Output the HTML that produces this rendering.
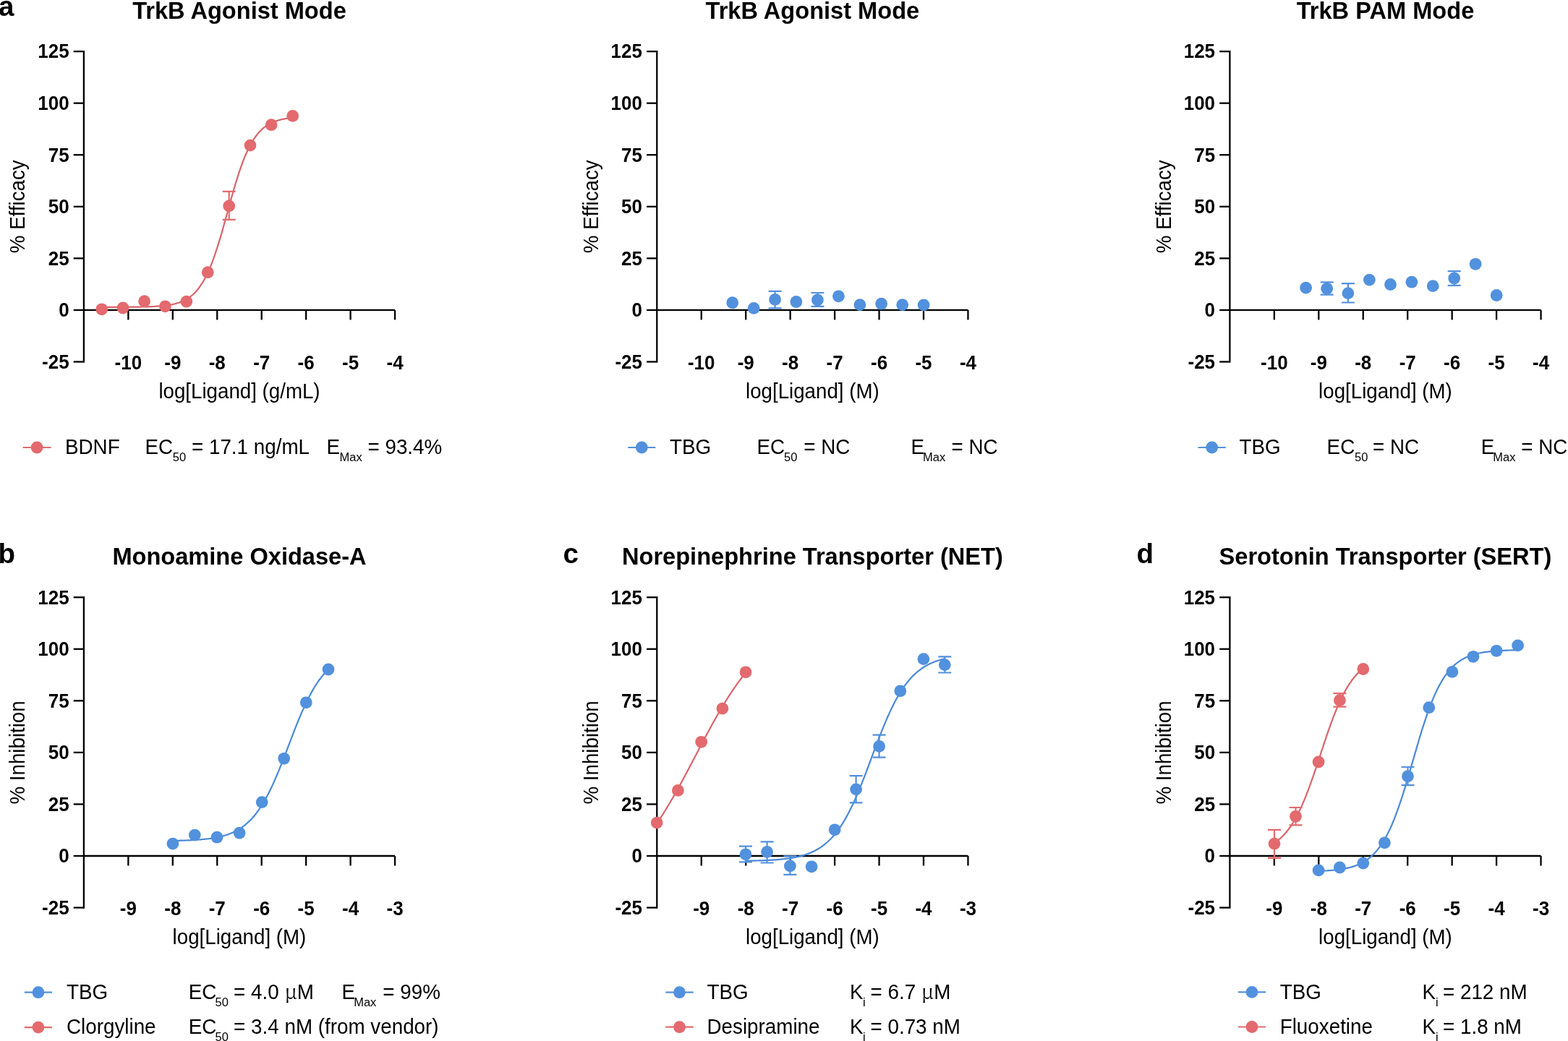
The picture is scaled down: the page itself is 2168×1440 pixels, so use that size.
<!DOCTYPE html>
<html><head><meta charset="utf-8"><title>Figure</title>
<style>
html,body{margin:0;padding:0;background:#fff;}
svg{display:block;}
text{font-family:"Liberation Sans",Arial,sans-serif;fill:#000;}
.tk{font-size:26px;font-weight:700;}
.lb{font-size:27.7px;}
.tt{font-size:32.6px;font-weight:700;}
.pl{font-size:38.5px;font-weight:700;}
.lg{font-size:27.8px;}
.sb{font-size:16.5px;}
.mu{font-family:"Noto Serif CJK SC","Liberation Serif",serif;}
</style></head>
<body>
<svg width="2168" height="1440" viewBox="0 0 2168 1440">
<rect width="2168" height="1440" fill="#fff"/>
<path d="M115.90,71.15 V500.45" stroke="#000" stroke-width="2.3" fill="none" stroke-linecap="square"/>
<path d="M101.70,71.15 H115.90" stroke="#000" stroke-width="2.3" fill="none"/>
<text x="95.60" y="80.45" transform="matrix(1,0,0,1.033,0,-2.655)" class="tk" text-anchor="end">125</text>
<path d="M101.70,142.70 H115.90" stroke="#000" stroke-width="2.3" fill="none"/>
<text x="95.60" y="152.0" transform="matrix(1,0,0,1.033,0,-5.016)" class="tk" text-anchor="end">100</text>
<path d="M101.70,214.25 H115.90" stroke="#000" stroke-width="2.3" fill="none"/>
<text x="95.60" y="223.55" transform="matrix(1,0,0,1.033,0,-7.377)" class="tk" text-anchor="end">75</text>
<path d="M101.70,285.80 H115.90" stroke="#000" stroke-width="2.3" fill="none"/>
<text x="95.60" y="295.1" transform="matrix(1,0,0,1.033,0,-9.738)" class="tk" text-anchor="end">50</text>
<path d="M101.70,357.35 H115.90" stroke="#000" stroke-width="2.3" fill="none"/>
<text x="95.60" y="366.65" transform="matrix(1,0,0,1.033,0,-12.099)" class="tk" text-anchor="end">25</text>
<path d="M101.70,428.90 H115.90" stroke="#000" stroke-width="2.3" fill="none"/>
<text x="95.60" y="438.2" transform="matrix(1,0,0,1.033,0,-14.461)" class="tk" text-anchor="end">0</text>
<path d="M101.70,500.45 H115.90" stroke="#000" stroke-width="2.3" fill="none"/>
<text x="95.60" y="509.75" transform="matrix(1,0,0,1.033,0,-16.822)" class="tk" text-anchor="end">-25</text>
<path d="M115.90,428.90 H546.05" stroke="#000" stroke-width="2.3" fill="none"/>
<path d="M177.35,428.90 V442.40" stroke="#000" stroke-width="2.3" fill="none"/>
<text x="177.35" y="511.2" transform="matrix(1,0,0,1.033,0,-16.870)" class="tk" text-anchor="middle">-10</text>
<path d="M238.80,428.90 V442.40" stroke="#000" stroke-width="2.3" fill="none"/>
<text x="238.80" y="511.2" transform="matrix(1,0,0,1.033,0,-16.870)" class="tk" text-anchor="middle">-9</text>
<path d="M300.25,428.90 V442.40" stroke="#000" stroke-width="2.3" fill="none"/>
<text x="300.25" y="511.2" transform="matrix(1,0,0,1.033,0,-16.870)" class="tk" text-anchor="middle">-8</text>
<path d="M361.70,428.90 V442.40" stroke="#000" stroke-width="2.3" fill="none"/>
<text x="361.70" y="511.2" transform="matrix(1,0,0,1.033,0,-16.870)" class="tk" text-anchor="middle">-7</text>
<path d="M423.15,428.90 V442.40" stroke="#000" stroke-width="2.3" fill="none"/>
<text x="423.15" y="511.2" transform="matrix(1,0,0,1.033,0,-16.870)" class="tk" text-anchor="middle">-6</text>
<path d="M484.60,428.90 V442.40" stroke="#000" stroke-width="2.3" fill="none"/>
<text x="484.60" y="511.2" transform="matrix(1,0,0,1.033,0,-16.870)" class="tk" text-anchor="middle">-5</text>
<path d="M546.05,428.90 V442.40" stroke="#000" stroke-width="2.3" fill="none"/>
<text x="546.05" y="511.2" transform="matrix(1,0,0,1.033,0,-16.870)" class="tk" text-anchor="middle">-4</text>
<text x="330.98" y="550.6" transform="matrix(1,0,0,1.04,0,-22.024)" class="lb" text-anchor="middle">log[Ligand] (g/mL)</text>
<text transform="translate(34.40,285.80) rotate(-90) scale(1,1.04)" class="lb" text-anchor="middle">% Efficacy</text>
<text x="330.98" y="25.9" transform="matrix(1,0,0,1.02,0,-0.518)" class="tt" text-anchor="middle">TrkB Agonist Mode</text>
<path d="M140.7,424.9 L142.9,424.9 L145.1,424.9 L147.4,424.9 L149.6,424.9 L151.8,424.9 L154.0,424.9 L156.2,424.8 L158.4,424.8 L160.7,424.8 L162.9,424.8 L165.1,424.8 L167.3,424.8 L169.5,424.8 L171.8,424.8 L174.0,424.8 L176.2,424.8 L178.4,424.7 L180.6,424.7 L182.9,424.7 L185.1,424.7 L187.3,424.7 L189.5,424.6 L191.7,424.6 L193.9,424.6 L196.2,424.5 L198.4,424.5 L200.6,424.4 L202.8,424.3 L205.0,424.3 L207.3,424.2 L209.5,424.1 L211.7,424.0 L213.9,423.9 L216.1,423.7 L218.3,423.6 L220.6,423.4 L222.8,423.2 L225.0,423.0 L227.2,422.8 L229.4,422.5 L231.7,422.2 L233.9,421.9 L236.1,421.5 L238.3,421.1 L240.5,420.6 L242.8,420.0 L245.0,419.4 L247.2,418.7 L249.4,417.9 L251.6,417.0 L253.8,416.0 L256.1,414.9 L258.3,413.7 L260.5,412.3 L262.7,410.7 L264.9,409.0 L267.2,407.0 L269.4,404.9 L271.6,402.5 L273.8,399.9 L276.0,396.9 L278.2,393.7 L280.5,390.2 L282.7,386.3 L284.9,382.1 L287.1,377.6 L289.3,372.6 L291.6,367.3 L293.8,361.6 L296.0,355.5 L298.2,349.1 L300.4,342.3 L302.6,335.2 L304.9,327.8 L307.1,320.2 L309.3,312.3 L311.5,304.4 L313.7,296.3 L316.0,288.2 L318.2,280.2 L320.4,272.3 L322.6,264.5 L324.8,256.9 L327.1,249.5 L329.3,242.5 L331.5,235.7 L333.7,229.4 L335.9,223.3 L338.1,217.7 L340.4,212.5 L342.6,207.6 L344.8,203.1 L347.0,198.9 L349.2,195.1 L351.5,191.6 L353.7,188.5 L355.9,185.6 L358.1,183.0 L360.3,180.7 L362.5,178.6 L364.8,176.7 L367.0,175.0 L369.2,173.4 L371.4,172.1 L373.6,170.9 L375.9,169.8 L378.1,168.8 L380.3,167.9 L382.5,167.1 L384.7,166.5 L387.0,165.9 L389.2,165.3 L391.4,164.8 L393.6,164.4 L395.8,164.0 L398.0,163.7 L400.3,163.4 L402.5,163.1 L404.7,162.9" fill="none" stroke="#D9646B" stroke-width="2.2" stroke-linejoin="round"/>
<path d="M316.7,264.9 V303.8 M307.7,264.9 H325.7 M307.7,303.8 H325.7" stroke="#E36A6E" stroke-width="2.2" fill="none"/>
<circle cx="140.7" cy="427.8" r="8.4" fill="#E36A6E"/>
<circle cx="170.0" cy="426.0" r="8.4" fill="#E36A6E"/>
<circle cx="199.6" cy="416.7" r="8.4" fill="#E36A6E"/>
<circle cx="228.4" cy="423.8" r="8.4" fill="#E36A6E"/>
<circle cx="257.8" cy="417.1" r="8.4" fill="#E36A6E"/>
<circle cx="287.3" cy="376.7" r="8.4" fill="#E36A6E"/>
<circle cx="316.7" cy="284.9" r="8.4" fill="#E36A6E"/>
<circle cx="346.0" cy="201.1" r="8.4" fill="#E36A6E"/>
<circle cx="375.1" cy="172.7" r="8.4" fill="#E36A6E"/>
<circle cx="404.7" cy="160.4" r="8.4" fill="#E36A6E"/>
<path d="M908.30,71.15 V500.45" stroke="#000" stroke-width="2.3" fill="none" stroke-linecap="square"/>
<path d="M894.10,71.15 H908.30" stroke="#000" stroke-width="2.3" fill="none"/>
<text x="888.00" y="80.45" transform="matrix(1,0,0,1.033,0,-2.655)" class="tk" text-anchor="end">125</text>
<path d="M894.10,142.70 H908.30" stroke="#000" stroke-width="2.3" fill="none"/>
<text x="888.00" y="152.0" transform="matrix(1,0,0,1.033,0,-5.016)" class="tk" text-anchor="end">100</text>
<path d="M894.10,214.25 H908.30" stroke="#000" stroke-width="2.3" fill="none"/>
<text x="888.00" y="223.55" transform="matrix(1,0,0,1.033,0,-7.377)" class="tk" text-anchor="end">75</text>
<path d="M894.10,285.80 H908.30" stroke="#000" stroke-width="2.3" fill="none"/>
<text x="888.00" y="295.1" transform="matrix(1,0,0,1.033,0,-9.738)" class="tk" text-anchor="end">50</text>
<path d="M894.10,357.35 H908.30" stroke="#000" stroke-width="2.3" fill="none"/>
<text x="888.00" y="366.65" transform="matrix(1,0,0,1.033,0,-12.099)" class="tk" text-anchor="end">25</text>
<path d="M894.10,428.90 H908.30" stroke="#000" stroke-width="2.3" fill="none"/>
<text x="888.00" y="438.2" transform="matrix(1,0,0,1.033,0,-14.461)" class="tk" text-anchor="end">0</text>
<path d="M894.10,500.45 H908.30" stroke="#000" stroke-width="2.3" fill="none"/>
<text x="888.00" y="509.75" transform="matrix(1,0,0,1.033,0,-16.822)" class="tk" text-anchor="end">-25</text>
<path d="M908.30,428.90 H1338.45" stroke="#000" stroke-width="2.3" fill="none"/>
<path d="M969.75,428.90 V442.40" stroke="#000" stroke-width="2.3" fill="none"/>
<text x="969.75" y="511.2" transform="matrix(1,0,0,1.033,0,-16.870)" class="tk" text-anchor="middle">-10</text>
<path d="M1031.20,428.90 V442.40" stroke="#000" stroke-width="2.3" fill="none"/>
<text x="1031.20" y="511.2" transform="matrix(1,0,0,1.033,0,-16.870)" class="tk" text-anchor="middle">-9</text>
<path d="M1092.65,428.90 V442.40" stroke="#000" stroke-width="2.3" fill="none"/>
<text x="1092.65" y="511.2" transform="matrix(1,0,0,1.033,0,-16.870)" class="tk" text-anchor="middle">-8</text>
<path d="M1154.10,428.90 V442.40" stroke="#000" stroke-width="2.3" fill="none"/>
<text x="1154.10" y="511.2" transform="matrix(1,0,0,1.033,0,-16.870)" class="tk" text-anchor="middle">-7</text>
<path d="M1215.55,428.90 V442.40" stroke="#000" stroke-width="2.3" fill="none"/>
<text x="1215.55" y="511.2" transform="matrix(1,0,0,1.033,0,-16.870)" class="tk" text-anchor="middle">-6</text>
<path d="M1277.00,428.90 V442.40" stroke="#000" stroke-width="2.3" fill="none"/>
<text x="1277.00" y="511.2" transform="matrix(1,0,0,1.033,0,-16.870)" class="tk" text-anchor="middle">-5</text>
<path d="M1338.45,428.90 V442.40" stroke="#000" stroke-width="2.3" fill="none"/>
<text x="1338.45" y="511.2" transform="matrix(1,0,0,1.033,0,-16.870)" class="tk" text-anchor="middle">-4</text>
<text x="1123.38" y="550.6" transform="matrix(1,0,0,1.04,0,-22.024)" class="lb" text-anchor="middle">log[Ligand] (M)</text>
<text transform="translate(826.80,285.80) rotate(-90) scale(1,1.04)" class="lb" text-anchor="middle">% Efficacy</text>
<text x="1123.38" y="25.9" transform="matrix(1,0,0,1.02,0,-0.518)" class="tt" text-anchor="middle">TrkB Agonist Mode</text>
<path d="M1071.6,402.8 V426.4 M1062.6,402.8 H1080.6 M1062.6,426.4 H1080.6" stroke="#5291DD" stroke-width="2.2" fill="none"/>
<path d="M1130.4,405.0 V423.9 M1121.4,405.0 H1139.4 M1121.4,423.9 H1139.4" stroke="#5291DD" stroke-width="2.2" fill="none"/>
<circle cx="1012.7" cy="418.7" r="8.4" fill="#5291DD"/>
<circle cx="1042.2" cy="426.4" r="8.4" fill="#5291DD"/>
<circle cx="1071.6" cy="414.4" r="8.4" fill="#5291DD"/>
<circle cx="1100.9" cy="417.5" r="8.4" fill="#5291DD"/>
<circle cx="1130.4" cy="415.0" r="8.4" fill="#5291DD"/>
<circle cx="1159.4" cy="409.8" r="8.4" fill="#5291DD"/>
<circle cx="1188.9" cy="421.6" r="8.4" fill="#5291DD"/>
<circle cx="1218.6" cy="420.2" r="8.4" fill="#5291DD"/>
<circle cx="1247.7" cy="421.6" r="8.4" fill="#5291DD"/>
<circle cx="1277.1" cy="421.9" r="8.4" fill="#5291DD"/>
<path d="M1700.40,71.15 V500.45" stroke="#000" stroke-width="2.3" fill="none" stroke-linecap="square"/>
<path d="M1686.20,71.15 H1700.40" stroke="#000" stroke-width="2.3" fill="none"/>
<text x="1680.10" y="80.45" transform="matrix(1,0,0,1.033,0,-2.655)" class="tk" text-anchor="end">125</text>
<path d="M1686.20,142.70 H1700.40" stroke="#000" stroke-width="2.3" fill="none"/>
<text x="1680.10" y="152.0" transform="matrix(1,0,0,1.033,0,-5.016)" class="tk" text-anchor="end">100</text>
<path d="M1686.20,214.25 H1700.40" stroke="#000" stroke-width="2.3" fill="none"/>
<text x="1680.10" y="223.55" transform="matrix(1,0,0,1.033,0,-7.377)" class="tk" text-anchor="end">75</text>
<path d="M1686.20,285.80 H1700.40" stroke="#000" stroke-width="2.3" fill="none"/>
<text x="1680.10" y="295.1" transform="matrix(1,0,0,1.033,0,-9.738)" class="tk" text-anchor="end">50</text>
<path d="M1686.20,357.35 H1700.40" stroke="#000" stroke-width="2.3" fill="none"/>
<text x="1680.10" y="366.65" transform="matrix(1,0,0,1.033,0,-12.099)" class="tk" text-anchor="end">25</text>
<path d="M1686.20,428.90 H1700.40" stroke="#000" stroke-width="2.3" fill="none"/>
<text x="1680.10" y="438.2" transform="matrix(1,0,0,1.033,0,-14.461)" class="tk" text-anchor="end">0</text>
<path d="M1686.20,500.45 H1700.40" stroke="#000" stroke-width="2.3" fill="none"/>
<text x="1680.10" y="509.75" transform="matrix(1,0,0,1.033,0,-16.822)" class="tk" text-anchor="end">-25</text>
<path d="M1700.40,428.90 H2130.55" stroke="#000" stroke-width="2.3" fill="none"/>
<path d="M1761.85,428.90 V442.40" stroke="#000" stroke-width="2.3" fill="none"/>
<text x="1761.85" y="511.2" transform="matrix(1,0,0,1.033,0,-16.870)" class="tk" text-anchor="middle">-10</text>
<path d="M1823.30,428.90 V442.40" stroke="#000" stroke-width="2.3" fill="none"/>
<text x="1823.30" y="511.2" transform="matrix(1,0,0,1.033,0,-16.870)" class="tk" text-anchor="middle">-9</text>
<path d="M1884.75,428.90 V442.40" stroke="#000" stroke-width="2.3" fill="none"/>
<text x="1884.75" y="511.2" transform="matrix(1,0,0,1.033,0,-16.870)" class="tk" text-anchor="middle">-8</text>
<path d="M1946.20,428.90 V442.40" stroke="#000" stroke-width="2.3" fill="none"/>
<text x="1946.20" y="511.2" transform="matrix(1,0,0,1.033,0,-16.870)" class="tk" text-anchor="middle">-7</text>
<path d="M2007.65,428.90 V442.40" stroke="#000" stroke-width="2.3" fill="none"/>
<text x="2007.65" y="511.2" transform="matrix(1,0,0,1.033,0,-16.870)" class="tk" text-anchor="middle">-6</text>
<path d="M2069.10,428.90 V442.40" stroke="#000" stroke-width="2.3" fill="none"/>
<text x="2069.10" y="511.2" transform="matrix(1,0,0,1.033,0,-16.870)" class="tk" text-anchor="middle">-5</text>
<path d="M2130.55,428.90 V442.40" stroke="#000" stroke-width="2.3" fill="none"/>
<text x="2130.55" y="511.2" transform="matrix(1,0,0,1.033,0,-16.870)" class="tk" text-anchor="middle">-4</text>
<text x="1915.48" y="550.6" transform="matrix(1,0,0,1.04,0,-22.024)" class="lb" text-anchor="middle">log[Ligand] (M)</text>
<text transform="translate(1618.90,285.80) rotate(-90) scale(1,1.04)" class="lb" text-anchor="middle">% Efficacy</text>
<text x="1915.48" y="25.9" transform="matrix(1,0,0,1.02,0,-0.518)" class="tt" text-anchor="middle">TrkB PAM Mode</text>
<path d="M1834.7,390.4 V407.7 M1825.7,390.4 H1843.7 M1825.7,407.7 H1843.7" stroke="#5291DD" stroke-width="2.2" fill="none"/>
<path d="M1863.9,392.1 V418.5 M1854.9,392.1 H1872.9 M1854.9,418.5 H1872.9" stroke="#5291DD" stroke-width="2.2" fill="none"/>
<path d="M2010.7,375.1 V394.8 M2001.7,375.1 H2019.7 M2001.7,394.8 H2019.7" stroke="#5291DD" stroke-width="2.2" fill="none"/>
<circle cx="1805.6" cy="398.1" r="8.4" fill="#5291DD"/>
<circle cx="1834.7" cy="399.2" r="8.4" fill="#5291DD"/>
<circle cx="1863.9" cy="405.6" r="8.4" fill="#5291DD"/>
<circle cx="1893.4" cy="387.1" r="8.4" fill="#5291DD"/>
<circle cx="1922.5" cy="393.5" r="8.4" fill="#5291DD"/>
<circle cx="1951.9" cy="390.2" r="8.4" fill="#5291DD"/>
<circle cx="1981.2" cy="395.6" r="8.4" fill="#5291DD"/>
<circle cx="2010.7" cy="385.0" r="8.4" fill="#5291DD"/>
<circle cx="2040.1" cy="365.3" r="8.4" fill="#5291DD"/>
<circle cx="2069.2" cy="408.5" r="8.4" fill="#5291DD"/>
<path d="M115.90,826.25 V1255.55" stroke="#000" stroke-width="2.3" fill="none" stroke-linecap="square"/>
<path d="M101.70,826.25 H115.90" stroke="#000" stroke-width="2.3" fill="none"/>
<text x="95.60" y="835.55" transform="matrix(1,0,0,1.033,0,-27.573)" class="tk" text-anchor="end">125</text>
<path d="M101.70,897.80 H115.90" stroke="#000" stroke-width="2.3" fill="none"/>
<text x="95.60" y="907.1" transform="matrix(1,0,0,1.033,0,-29.934)" class="tk" text-anchor="end">100</text>
<path d="M101.70,969.35 H115.90" stroke="#000" stroke-width="2.3" fill="none"/>
<text x="95.60" y="978.65" transform="matrix(1,0,0,1.033,0,-32.295)" class="tk" text-anchor="end">75</text>
<path d="M101.70,1040.90 H115.90" stroke="#000" stroke-width="2.3" fill="none"/>
<text x="95.60" y="1050.2" transform="matrix(1,0,0,1.033,0,-34.657)" class="tk" text-anchor="end">50</text>
<path d="M101.70,1112.45 H115.90" stroke="#000" stroke-width="2.3" fill="none"/>
<text x="95.60" y="1121.75" transform="matrix(1,0,0,1.033,0,-37.018)" class="tk" text-anchor="end">25</text>
<path d="M101.70,1184.00 H115.90" stroke="#000" stroke-width="2.3" fill="none"/>
<text x="95.60" y="1193.3" transform="matrix(1,0,0,1.033,0,-39.379)" class="tk" text-anchor="end">0</text>
<path d="M101.70,1255.55 H115.90" stroke="#000" stroke-width="2.3" fill="none"/>
<text x="95.60" y="1264.85" transform="matrix(1,0,0,1.033,0,-41.740)" class="tk" text-anchor="end">-25</text>
<path d="M115.90,1184.00 H546.05" stroke="#000" stroke-width="2.3" fill="none"/>
<path d="M177.35,1184.00 V1197.50" stroke="#000" stroke-width="2.3" fill="none"/>
<text x="177.35" y="1266.3" transform="matrix(1,0,0,1.033,0,-41.788)" class="tk" text-anchor="middle">-9</text>
<path d="M238.80,1184.00 V1197.50" stroke="#000" stroke-width="2.3" fill="none"/>
<text x="238.80" y="1266.3" transform="matrix(1,0,0,1.033,0,-41.788)" class="tk" text-anchor="middle">-8</text>
<path d="M300.25,1184.00 V1197.50" stroke="#000" stroke-width="2.3" fill="none"/>
<text x="300.25" y="1266.3" transform="matrix(1,0,0,1.033,0,-41.788)" class="tk" text-anchor="middle">-7</text>
<path d="M361.70,1184.00 V1197.50" stroke="#000" stroke-width="2.3" fill="none"/>
<text x="361.70" y="1266.3" transform="matrix(1,0,0,1.033,0,-41.788)" class="tk" text-anchor="middle">-6</text>
<path d="M423.15,1184.00 V1197.50" stroke="#000" stroke-width="2.3" fill="none"/>
<text x="423.15" y="1266.3" transform="matrix(1,0,0,1.033,0,-41.788)" class="tk" text-anchor="middle">-5</text>
<path d="M484.60,1184.00 V1197.50" stroke="#000" stroke-width="2.3" fill="none"/>
<text x="484.60" y="1266.3" transform="matrix(1,0,0,1.033,0,-41.788)" class="tk" text-anchor="middle">-4</text>
<path d="M546.05,1184.00 V1197.50" stroke="#000" stroke-width="2.3" fill="none"/>
<text x="546.05" y="1266.3" transform="matrix(1,0,0,1.033,0,-41.788)" class="tk" text-anchor="middle">-3</text>
<text x="330.98" y="1305.7" transform="matrix(1,0,0,1.04,0,-52.228)" class="lb" text-anchor="middle">log[Ligand] (M)</text>
<text transform="translate(34.40,1040.90) rotate(-90) scale(1,1.04)" class="lb" text-anchor="middle">% Inhibition</text>
<text x="330.98" y="781.0" transform="matrix(1,0,0,1.02,0,-15.620)" class="tt" text-anchor="middle">Monoamine Oxidase-A</text>
<path d="M238.9,1163.0 L240.7,1162.9 L242.5,1162.9 L244.3,1162.9 L246.1,1162.8 L247.9,1162.8 L249.7,1162.7 L251.6,1162.7 L253.4,1162.6 L255.2,1162.6 L257.0,1162.5 L258.8,1162.4 L260.6,1162.3 L262.4,1162.3 L264.2,1162.2 L266.0,1162.1 L267.8,1162.0 L269.6,1161.9 L271.4,1161.8 L273.2,1161.6 L275.1,1161.5 L276.9,1161.4 L278.7,1161.2 L280.5,1161.0 L282.3,1160.9 L284.1,1160.7 L285.9,1160.5 L287.7,1160.3 L289.5,1160.0 L291.3,1159.8 L293.1,1159.5 L294.9,1159.2 L296.7,1158.9 L298.5,1158.6 L300.4,1158.2 L302.2,1157.9 L304.0,1157.5 L305.8,1157.0 L307.6,1156.6 L309.4,1156.1 L311.2,1155.5 L313.0,1155.0 L314.8,1154.4 L316.6,1153.7 L318.4,1153.0 L320.2,1152.3 L322.0,1151.5 L323.9,1150.6 L325.7,1149.7 L327.5,1148.8 L329.3,1147.8 L331.1,1146.7 L332.9,1145.5 L334.7,1144.3 L336.5,1143.0 L338.3,1141.6 L340.1,1140.1 L341.9,1138.5 L343.7,1136.8 L345.5,1135.1 L347.4,1133.2 L349.2,1131.2 L351.0,1129.2 L352.8,1127.0 L354.6,1124.7 L356.4,1122.2 L358.2,1119.7 L360.0,1117.0 L361.8,1114.2 L363.6,1111.3 L365.4,1108.2 L367.2,1105.0 L369.0,1101.7 L370.9,1098.2 L372.7,1094.6 L374.5,1090.9 L376.3,1087.1 L378.1,1083.2 L379.9,1079.1 L381.7,1074.9 L383.5,1070.7 L385.3,1066.3 L387.1,1061.9 L388.9,1057.3 L390.7,1052.8 L392.5,1048.1 L394.4,1043.5 L396.2,1038.8 L398.0,1034.0 L399.8,1029.3 L401.6,1024.6 L403.4,1019.9 L405.2,1015.2 L407.0,1010.5 L408.8,1005.9 L410.6,1001.4 L412.4,997.0 L414.2,992.6 L416.0,988.3 L417.8,984.1 L419.7,980.1 L421.5,976.1 L423.3,972.2 L425.1,968.5 L426.9,964.9 L428.7,961.4 L430.5,958.1 L432.3,954.9 L434.1,951.8 L435.9,948.8 L437.7,946.0 L439.5,943.3 L441.3,940.7 L443.2,938.3 L445.0,935.9 L446.8,933.7 L448.6,931.6 L450.4,929.6 L452.2,927.8 L454.0,926.0" fill="none" stroke="#4A88D8" stroke-width="2.2" stroke-linejoin="round"/>
<circle cx="238.9" cy="1167.1" r="8.4" fill="#5291DD"/>
<circle cx="269.3" cy="1155.1" r="8.4" fill="#5291DD"/>
<circle cx="300.0" cy="1158.2" r="8.4" fill="#5291DD"/>
<circle cx="331.1" cy="1152.2" r="8.4" fill="#5291DD"/>
<circle cx="362.2" cy="1109.6" r="8.4" fill="#5291DD"/>
<circle cx="392.7" cy="1049.3" r="8.4" fill="#5291DD"/>
<circle cx="423.3" cy="971.8" r="8.4" fill="#5291DD"/>
<circle cx="454.0" cy="926.0" r="8.4" fill="#5291DD"/>
<path d="M908.30,826.25 V1255.55" stroke="#000" stroke-width="2.3" fill="none" stroke-linecap="square"/>
<path d="M894.10,826.25 H908.30" stroke="#000" stroke-width="2.3" fill="none"/>
<text x="888.00" y="835.55" transform="matrix(1,0,0,1.033,0,-27.573)" class="tk" text-anchor="end">125</text>
<path d="M894.10,897.80 H908.30" stroke="#000" stroke-width="2.3" fill="none"/>
<text x="888.00" y="907.1" transform="matrix(1,0,0,1.033,0,-29.934)" class="tk" text-anchor="end">100</text>
<path d="M894.10,969.35 H908.30" stroke="#000" stroke-width="2.3" fill="none"/>
<text x="888.00" y="978.65" transform="matrix(1,0,0,1.033,0,-32.295)" class="tk" text-anchor="end">75</text>
<path d="M894.10,1040.90 H908.30" stroke="#000" stroke-width="2.3" fill="none"/>
<text x="888.00" y="1050.2" transform="matrix(1,0,0,1.033,0,-34.657)" class="tk" text-anchor="end">50</text>
<path d="M894.10,1112.45 H908.30" stroke="#000" stroke-width="2.3" fill="none"/>
<text x="888.00" y="1121.75" transform="matrix(1,0,0,1.033,0,-37.018)" class="tk" text-anchor="end">25</text>
<path d="M894.10,1184.00 H908.30" stroke="#000" stroke-width="2.3" fill="none"/>
<text x="888.00" y="1193.3" transform="matrix(1,0,0,1.033,0,-39.379)" class="tk" text-anchor="end">0</text>
<path d="M894.10,1255.55 H908.30" stroke="#000" stroke-width="2.3" fill="none"/>
<text x="888.00" y="1264.85" transform="matrix(1,0,0,1.033,0,-41.740)" class="tk" text-anchor="end">-25</text>
<path d="M908.30,1184.00 H1338.45" stroke="#000" stroke-width="2.3" fill="none"/>
<path d="M969.75,1184.00 V1197.50" stroke="#000" stroke-width="2.3" fill="none"/>
<text x="969.75" y="1266.3" transform="matrix(1,0,0,1.033,0,-41.788)" class="tk" text-anchor="middle">-9</text>
<path d="M1031.20,1184.00 V1197.50" stroke="#000" stroke-width="2.3" fill="none"/>
<text x="1031.20" y="1266.3" transform="matrix(1,0,0,1.033,0,-41.788)" class="tk" text-anchor="middle">-8</text>
<path d="M1092.65,1184.00 V1197.50" stroke="#000" stroke-width="2.3" fill="none"/>
<text x="1092.65" y="1266.3" transform="matrix(1,0,0,1.033,0,-41.788)" class="tk" text-anchor="middle">-7</text>
<path d="M1154.10,1184.00 V1197.50" stroke="#000" stroke-width="2.3" fill="none"/>
<text x="1154.10" y="1266.3" transform="matrix(1,0,0,1.033,0,-41.788)" class="tk" text-anchor="middle">-6</text>
<path d="M1215.55,1184.00 V1197.50" stroke="#000" stroke-width="2.3" fill="none"/>
<text x="1215.55" y="1266.3" transform="matrix(1,0,0,1.033,0,-41.788)" class="tk" text-anchor="middle">-5</text>
<path d="M1277.00,1184.00 V1197.50" stroke="#000" stroke-width="2.3" fill="none"/>
<text x="1277.00" y="1266.3" transform="matrix(1,0,0,1.033,0,-41.788)" class="tk" text-anchor="middle">-4</text>
<path d="M1338.45,1184.00 V1197.50" stroke="#000" stroke-width="2.3" fill="none"/>
<text x="1338.45" y="1266.3" transform="matrix(1,0,0,1.033,0,-41.788)" class="tk" text-anchor="middle">-3</text>
<text x="1123.38" y="1305.7" transform="matrix(1,0,0,1.04,0,-52.228)" class="lb" text-anchor="middle">log[Ligand] (M)</text>
<text transform="translate(826.80,1040.90) rotate(-90) scale(1,1.04)" class="lb" text-anchor="middle">% Inhibition</text>
<text x="1123.38" y="781.0" transform="matrix(1,0,0,1.02,0,-15.620)" class="tt" text-anchor="middle">Norepinephrine Transporter (NET)</text>
<path d="M908.2,1138.9 L909.2,1137.4 L910.3,1135.8 L911.3,1134.3 L912.3,1132.7 L913.4,1131.2 L914.4,1129.6 L915.4,1128.0 L916.5,1126.4 L917.5,1124.8 L918.5,1123.1 L919.6,1121.5 L920.6,1119.8 L921.6,1118.1 L922.6,1116.4 L923.7,1114.7 L924.7,1113.0 L925.7,1111.3 L926.8,1109.5 L927.8,1107.8 L928.8,1106.0 L929.9,1104.2 L930.9,1102.4 L931.9,1100.6 L933.0,1098.8 L934.0,1097.0 L935.0,1095.1 L936.1,1093.3 L937.1,1091.4 L938.1,1089.6 L939.2,1087.7 L940.2,1085.8 L941.2,1083.9 L942.3,1082.0 L943.3,1080.1 L944.3,1078.2 L945.3,1076.3 L946.4,1074.4 L947.4,1072.5 L948.4,1070.5 L949.5,1068.6 L950.5,1066.6 L951.5,1064.7 L952.6,1062.7 L953.6,1060.8 L954.6,1058.8 L955.7,1056.8 L956.7,1054.9 L957.7,1052.9 L958.8,1050.9 L959.8,1049.0 L960.8,1047.0 L961.9,1045.0 L962.9,1043.0 L963.9,1041.1 L965.0,1039.1 L966.0,1037.1 L967.0,1035.1 L968.1,1033.2 L969.1,1031.2 L970.1,1029.3 L971.1,1027.3 L972.2,1025.3 L973.2,1023.4 L974.2,1021.4 L975.3,1019.5 L976.3,1017.6 L977.3,1015.6 L978.4,1013.7 L979.4,1011.8 L980.4,1009.9 L981.5,1008.0 L982.5,1006.1 L983.5,1004.2 L984.6,1002.3 L985.6,1000.5 L986.6,998.6 L987.7,996.8 L988.7,994.9 L989.7,993.1 L990.8,991.3 L991.8,989.4 L992.8,987.6 L993.9,985.9 L994.9,984.1 L995.9,982.3 L996.9,980.6 L998.0,978.8 L999.0,977.1 L1000.0,975.4 L1001.1,973.7 L1002.1,972.0 L1003.1,970.3 L1004.2,968.7 L1005.2,967.0 L1006.2,965.4 L1007.3,963.7 L1008.3,962.1 L1009.3,960.5 L1010.4,959.0 L1011.4,957.4 L1012.4,955.9 L1013.5,954.3 L1014.5,952.8 L1015.5,951.3 L1016.6,949.8 L1017.6,948.3 L1018.6,946.9 L1019.6,945.4 L1020.7,944.0 L1021.7,942.6 L1022.7,941.2 L1023.8,939.8 L1024.8,938.5 L1025.8,937.1 L1026.9,935.8 L1027.9,934.5 L1028.9,933.2 L1030.0,931.9 L1031.0,930.6" fill="none" stroke="#D9646B" stroke-width="2.2" stroke-linejoin="round"/>
<path d="M1031.0,1190.8 L1033.3,1190.8 L1035.6,1190.8 L1037.9,1190.7 L1040.3,1190.7 L1042.6,1190.6 L1044.9,1190.6 L1047.2,1190.5 L1049.5,1190.4 L1051.8,1190.3 L1054.1,1190.3 L1056.4,1190.2 L1058.8,1190.1 L1061.1,1190.0 L1063.4,1189.8 L1065.7,1189.7 L1068.0,1189.6 L1070.3,1189.4 L1072.6,1189.3 L1075.0,1189.1 L1077.3,1188.9 L1079.6,1188.7 L1081.9,1188.4 L1084.2,1188.2 L1086.5,1187.9 L1088.8,1187.6 L1091.1,1187.3 L1093.5,1186.9 L1095.8,1186.6 L1098.1,1186.1 L1100.4,1185.7 L1102.7,1185.2 L1105.0,1184.6 L1107.3,1184.1 L1109.7,1183.4 L1112.0,1182.7 L1114.3,1182.0 L1116.6,1181.2 L1118.9,1180.3 L1121.2,1179.4 L1123.5,1178.3 L1125.9,1177.2 L1128.2,1176.0 L1130.5,1174.7 L1132.8,1173.3 L1135.1,1171.8 L1137.4,1170.2 L1139.7,1168.4 L1142.0,1166.5 L1144.4,1164.5 L1146.7,1162.3 L1149.0,1160.0 L1151.3,1157.5 L1153.6,1154.9 L1155.9,1152.0 L1158.2,1149.0 L1160.6,1145.8 L1162.9,1142.4 L1165.2,1138.8 L1167.5,1134.9 L1169.8,1130.9 L1172.1,1126.7 L1174.4,1122.3 L1176.7,1117.6 L1179.1,1112.8 L1181.4,1107.8 L1183.7,1102.6 L1186.0,1097.2 L1188.3,1091.6 L1190.6,1085.9 L1192.9,1080.1 L1195.3,1074.1 L1197.6,1068.1 L1199.9,1062.0 L1202.2,1055.8 L1204.5,1049.6 L1206.8,1043.4 L1209.1,1037.3 L1211.4,1031.1 L1213.8,1025.0 L1216.1,1019.0 L1218.4,1013.2 L1220.7,1007.4 L1223.0,1001.8 L1225.3,996.3 L1227.6,991.0 L1230.0,985.9 L1232.3,980.9 L1234.6,976.2 L1236.9,971.6 L1239.2,967.3 L1241.5,963.2 L1243.8,959.3 L1246.2,955.5 L1248.5,952.0 L1250.8,948.7 L1253.1,945.6 L1255.4,942.7 L1257.7,939.9 L1260.0,937.3 L1262.3,934.9 L1264.7,932.6 L1267.0,930.5 L1269.3,928.6 L1271.6,926.8 L1273.9,925.1 L1276.2,923.5 L1278.5,922.0 L1280.9,920.7 L1283.2,919.4 L1285.5,918.3 L1287.8,917.2 L1290.1,916.2 L1292.4,915.3 L1294.7,914.5 L1297.0,913.7 L1299.4,913.0 L1301.7,912.3 L1304.0,911.7 L1306.3,911.1" fill="none" stroke="#4A88D8" stroke-width="2.2" stroke-linejoin="round"/>
<circle cx="908.2" cy="1138.1" r="8.4" fill="#E36A6E"/>
<circle cx="937.4" cy="1093.4" r="8.4" fill="#E36A6E"/>
<circle cx="969.7" cy="1026.3" r="8.4" fill="#E36A6E"/>
<circle cx="998.9" cy="980.1" r="8.4" fill="#E36A6E"/>
<circle cx="1031.0" cy="929.8" r="8.4" fill="#E36A6E"/>
<path d="M1031.0,1170.6 V1192.3 M1022.0,1170.6 H1040.0 M1022.0,1192.3 H1040.0" stroke="#5291DD" stroke-width="2.2" fill="none"/>
<path d="M1060.6,1164.3 V1193.5 M1051.6,1164.3 H1069.6 M1051.6,1193.5 H1069.6" stroke="#5291DD" stroke-width="2.2" fill="none"/>
<path d="M1092.4,1184.3 V1209.8 M1083.4,1184.3 H1101.4 M1083.4,1209.8 H1101.4" stroke="#5291DD" stroke-width="2.2" fill="none"/>
<path d="M1183.6,1073.2 V1110.4 M1174.6,1073.2 H1192.6 M1174.6,1110.4 H1192.6" stroke="#5291DD" stroke-width="2.2" fill="none"/>
<path d="M1215.6,1016.6 V1047.7 M1206.6,1016.6 H1224.6 M1206.6,1047.7 H1224.6" stroke="#5291DD" stroke-width="2.2" fill="none"/>
<path d="M1306.3,908.4 V930.5 M1297.3,908.4 H1315.3 M1297.3,930.5 H1315.3" stroke="#5291DD" stroke-width="2.2" fill="none"/>
<circle cx="1031.0" cy="1181.8" r="8.4" fill="#5291DD"/>
<circle cx="1060.6" cy="1178.4" r="8.4" fill="#5291DD"/>
<circle cx="1092.4" cy="1197.9" r="8.4" fill="#5291DD"/>
<circle cx="1122.1" cy="1198.8" r="8.4" fill="#5291DD"/>
<circle cx="1154.2" cy="1147.8" r="8.4" fill="#5291DD"/>
<circle cx="1183.6" cy="1091.9" r="8.4" fill="#5291DD"/>
<circle cx="1215.6" cy="1032.4" r="8.4" fill="#5291DD"/>
<circle cx="1244.8" cy="955.8" r="8.4" fill="#5291DD"/>
<circle cx="1276.9" cy="911.6" r="8.4" fill="#5291DD"/>
<circle cx="1306.3" cy="919.6" r="8.4" fill="#5291DD"/>
<path d="M1700.40,826.25 V1255.55" stroke="#000" stroke-width="2.3" fill="none" stroke-linecap="square"/>
<path d="M1686.20,826.25 H1700.40" stroke="#000" stroke-width="2.3" fill="none"/>
<text x="1680.10" y="835.55" transform="matrix(1,0,0,1.033,0,-27.573)" class="tk" text-anchor="end">125</text>
<path d="M1686.20,897.80 H1700.40" stroke="#000" stroke-width="2.3" fill="none"/>
<text x="1680.10" y="907.1" transform="matrix(1,0,0,1.033,0,-29.934)" class="tk" text-anchor="end">100</text>
<path d="M1686.20,969.35 H1700.40" stroke="#000" stroke-width="2.3" fill="none"/>
<text x="1680.10" y="978.65" transform="matrix(1,0,0,1.033,0,-32.295)" class="tk" text-anchor="end">75</text>
<path d="M1686.20,1040.90 H1700.40" stroke="#000" stroke-width="2.3" fill="none"/>
<text x="1680.10" y="1050.2" transform="matrix(1,0,0,1.033,0,-34.657)" class="tk" text-anchor="end">50</text>
<path d="M1686.20,1112.45 H1700.40" stroke="#000" stroke-width="2.3" fill="none"/>
<text x="1680.10" y="1121.75" transform="matrix(1,0,0,1.033,0,-37.018)" class="tk" text-anchor="end">25</text>
<path d="M1686.20,1184.00 H1700.40" stroke="#000" stroke-width="2.3" fill="none"/>
<text x="1680.10" y="1193.3" transform="matrix(1,0,0,1.033,0,-39.379)" class="tk" text-anchor="end">0</text>
<path d="M1686.20,1255.55 H1700.40" stroke="#000" stroke-width="2.3" fill="none"/>
<text x="1680.10" y="1264.85" transform="matrix(1,0,0,1.033,0,-41.740)" class="tk" text-anchor="end">-25</text>
<path d="M1700.40,1184.00 H2130.55" stroke="#000" stroke-width="2.3" fill="none"/>
<path d="M1761.85,1184.00 V1197.50" stroke="#000" stroke-width="2.3" fill="none"/>
<text x="1761.85" y="1266.3" transform="matrix(1,0,0,1.033,0,-41.788)" class="tk" text-anchor="middle">-9</text>
<path d="M1823.30,1184.00 V1197.50" stroke="#000" stroke-width="2.3" fill="none"/>
<text x="1823.30" y="1266.3" transform="matrix(1,0,0,1.033,0,-41.788)" class="tk" text-anchor="middle">-8</text>
<path d="M1884.75,1184.00 V1197.50" stroke="#000" stroke-width="2.3" fill="none"/>
<text x="1884.75" y="1266.3" transform="matrix(1,0,0,1.033,0,-41.788)" class="tk" text-anchor="middle">-7</text>
<path d="M1946.20,1184.00 V1197.50" stroke="#000" stroke-width="2.3" fill="none"/>
<text x="1946.20" y="1266.3" transform="matrix(1,0,0,1.033,0,-41.788)" class="tk" text-anchor="middle">-6</text>
<path d="M2007.65,1184.00 V1197.50" stroke="#000" stroke-width="2.3" fill="none"/>
<text x="2007.65" y="1266.3" transform="matrix(1,0,0,1.033,0,-41.788)" class="tk" text-anchor="middle">-5</text>
<path d="M2069.10,1184.00 V1197.50" stroke="#000" stroke-width="2.3" fill="none"/>
<text x="2069.10" y="1266.3" transform="matrix(1,0,0,1.033,0,-41.788)" class="tk" text-anchor="middle">-4</text>
<path d="M2130.55,1184.00 V1197.50" stroke="#000" stroke-width="2.3" fill="none"/>
<text x="2130.55" y="1266.3" transform="matrix(1,0,0,1.033,0,-41.788)" class="tk" text-anchor="middle">-3</text>
<text x="1915.48" y="1305.7" transform="matrix(1,0,0,1.04,0,-52.228)" class="lb" text-anchor="middle">log[Ligand] (M)</text>
<text transform="translate(1618.90,1040.90) rotate(-90) scale(1,1.04)" class="lb" text-anchor="middle">% Inhibition</text>
<text x="1915.48" y="781.0" transform="matrix(1,0,0,1.02,0,-15.620)" class="tt" text-anchor="middle">Serotonin Transporter (SERT)</text>
<path d="M1762.0,1166.0 L1763.0,1165.3 L1764.1,1164.6 L1765.1,1163.8 L1766.1,1163.0 L1767.2,1162.2 L1768.2,1161.4 L1769.2,1160.5 L1770.3,1159.6 L1771.3,1158.7 L1772.3,1157.7 L1773.4,1156.7 L1774.4,1155.6 L1775.4,1154.6 L1776.4,1153.4 L1777.5,1152.2 L1778.5,1151.0 L1779.5,1149.8 L1780.6,1148.5 L1781.6,1147.1 L1782.6,1145.7 L1783.7,1144.3 L1784.7,1142.8 L1785.7,1141.2 L1786.8,1139.6 L1787.8,1138.0 L1788.8,1136.3 L1789.9,1134.6 L1790.9,1132.7 L1791.9,1130.9 L1793.0,1129.0 L1794.0,1127.0 L1795.0,1125.0 L1796.1,1122.9 L1797.1,1120.8 L1798.1,1118.6 L1799.1,1116.4 L1800.2,1114.1 L1801.2,1111.7 L1802.2,1109.3 L1803.3,1106.9 L1804.3,1104.3 L1805.3,1101.8 L1806.4,1099.2 L1807.4,1096.5 L1808.4,1093.8 L1809.5,1091.1 L1810.5,1088.3 L1811.5,1085.5 L1812.6,1082.6 L1813.6,1079.7 L1814.6,1076.7 L1815.7,1073.8 L1816.7,1070.8 L1817.7,1067.7 L1818.8,1064.7 L1819.8,1061.6 L1820.8,1058.5 L1821.9,1055.4 L1822.9,1052.3 L1823.9,1049.1 L1824.9,1046.0 L1826.0,1042.9 L1827.0,1039.7 L1828.0,1036.6 L1829.1,1033.5 L1830.1,1030.3 L1831.1,1027.2 L1832.2,1024.1 L1833.2,1021.1 L1834.2,1018.0 L1835.3,1015.0 L1836.3,1012.0 L1837.3,1009.1 L1838.4,1006.1 L1839.4,1003.3 L1840.4,1000.4 L1841.5,997.6 L1842.5,994.8 L1843.5,992.1 L1844.6,989.4 L1845.6,986.8 L1846.6,984.2 L1847.7,981.7 L1848.7,979.2 L1849.7,976.8 L1850.7,974.4 L1851.8,972.1 L1852.8,969.8 L1853.8,967.6 L1854.9,965.4 L1855.9,963.3 L1856.9,961.3 L1858.0,959.3 L1859.0,957.4 L1860.0,955.5 L1861.1,953.6 L1862.1,951.9 L1863.1,950.1 L1864.2,948.5 L1865.2,946.9 L1866.2,945.3 L1867.3,943.8 L1868.3,942.3 L1869.3,940.9 L1870.4,939.5 L1871.4,938.2 L1872.4,936.9 L1873.4,935.7 L1874.5,934.5 L1875.5,933.3 L1876.5,932.2 L1877.6,931.1 L1878.6,930.1 L1879.6,929.1 L1880.7,928.2 L1881.7,927.2 L1882.7,926.4 L1883.8,925.5 L1884.8,924.7" fill="none" stroke="#D9646B" stroke-width="2.2" stroke-linejoin="round"/>
<path d="M1823.1,1205.0 L1825.4,1204.9 L1827.7,1204.8 L1830.0,1204.7 L1832.4,1204.5 L1834.7,1204.4 L1837.0,1204.2 L1839.3,1204.1 L1841.6,1203.9 L1843.9,1203.7 L1846.3,1203.4 L1848.6,1203.2 L1850.9,1202.9 L1853.2,1202.5 L1855.5,1202.2 L1857.8,1201.8 L1860.1,1201.4 L1862.5,1200.9 L1864.8,1200.4 L1867.1,1199.8 L1869.4,1199.1 L1871.7,1198.4 L1874.0,1197.6 L1876.3,1196.7 L1878.7,1195.8 L1881.0,1194.7 L1883.3,1193.5 L1885.6,1192.2 L1887.9,1190.8 L1890.2,1189.2 L1892.6,1187.5 L1894.9,1185.6 L1897.2,1183.5 L1899.5,1181.3 L1901.8,1178.8 L1904.1,1176.1 L1906.4,1173.2 L1908.8,1170.0 L1911.1,1166.6 L1913.4,1162.8 L1915.7,1158.8 L1918.0,1154.5 L1920.3,1149.9 L1922.7,1144.9 L1925.0,1139.7 L1927.3,1134.1 L1929.6,1128.2 L1931.9,1121.9 L1934.2,1115.4 L1936.5,1108.6 L1938.9,1101.5 L1941.2,1094.2 L1943.5,1086.6 L1945.8,1078.9 L1948.1,1071.1 L1950.4,1063.1 L1952.7,1055.1 L1955.1,1047.1 L1957.4,1039.1 L1959.7,1031.1 L1962.0,1023.3 L1964.3,1015.6 L1966.6,1008.2 L1969.0,1000.9 L1971.3,993.9 L1973.6,987.2 L1975.9,980.7 L1978.2,974.6 L1980.5,968.8 L1982.8,963.3 L1985.2,958.1 L1987.5,953.2 L1989.8,948.7 L1992.1,944.5 L1994.4,940.6 L1996.7,936.9 L1999.0,933.6 L2001.4,930.5 L2003.7,927.6 L2006.0,925.0 L2008.3,922.6 L2010.6,920.4 L2012.9,918.4 L2015.3,916.5 L2017.6,914.9 L2019.9,913.3 L2022.2,911.9 L2024.5,910.7 L2026.8,909.5 L2029.1,908.5 L2031.5,907.6 L2033.8,906.7 L2036.1,905.9 L2038.4,905.2 L2040.7,904.6 L2043.0,904.0 L2045.4,903.5 L2047.7,903.0 L2050.0,902.6 L2052.3,902.2 L2054.6,901.9 L2056.9,901.6 L2059.2,901.3 L2061.6,901.1 L2063.9,900.8 L2066.2,900.6 L2068.5,900.4 L2070.8,900.3 L2073.1,900.1 L2075.4,900.0 L2077.8,899.9 L2080.1,899.8 L2082.4,899.7 L2084.7,899.6 L2087.0,899.5 L2089.3,899.4 L2091.7,899.3 L2094.0,899.3 L2096.3,899.2 L2098.6,899.2" fill="none" stroke="#4A88D8" stroke-width="2.2" stroke-linejoin="round"/>
<path d="M1762.0,1147.8 V1186.9 M1753.0,1147.8 H1771.0 M1753.0,1186.9 H1771.0" stroke="#E36A6E" stroke-width="2.2" fill="none"/>
<path d="M1791.5,1117.0 V1141.4 M1782.5,1117.0 H1800.5 M1782.5,1141.4 H1800.5" stroke="#E36A6E" stroke-width="2.2" fill="none"/>
<path d="M1852.4,959.2 V977.7 M1843.4,959.2 H1861.4 M1843.4,977.7 H1861.4" stroke="#E36A6E" stroke-width="2.2" fill="none"/>
<circle cx="1762.0" cy="1167.1" r="8.4" fill="#E36A6E"/>
<circle cx="1791.5" cy="1129.3" r="8.4" fill="#E36A6E"/>
<circle cx="1823.1" cy="1054.0" r="8.4" fill="#E36A6E"/>
<circle cx="1852.4" cy="968.7" r="8.4" fill="#E36A6E"/>
<circle cx="1884.8" cy="925.5" r="8.4" fill="#E36A6E"/>
<path d="M1946.5,1061.0 V1086.2 M1937.5,1061.0 H1955.5 M1937.5,1086.2 H1955.5" stroke="#5291DD" stroke-width="2.2" fill="none"/>
<circle cx="1823.1" cy="1203.9" r="8.4" fill="#5291DD"/>
<circle cx="1852.4" cy="1200.0" r="8.4" fill="#5291DD"/>
<circle cx="1884.8" cy="1194.1" r="8.4" fill="#5291DD"/>
<circle cx="1914.4" cy="1165.8" r="8.4" fill="#5291DD"/>
<circle cx="1946.5" cy="1073.8" r="8.4" fill="#5291DD"/>
<circle cx="1975.8" cy="978.7" r="8.4" fill="#5291DD"/>
<circle cx="2007.9" cy="929.4" r="8.4" fill="#5291DD"/>
<circle cx="2037.0" cy="908.3" r="8.4" fill="#5291DD"/>
<circle cx="2069.1" cy="900.3" r="8.4" fill="#5291DD"/>
<circle cx="2098.6" cy="892.9" r="8.4" fill="#5291DD"/>
<text x="-2" y="21.7" class="pl">a</text>
<text x="-2.5" y="778.7" class="pl">b</text>
<text x="778.5" y="778.7" class="pl">c</text>
<text x="1571.5" y="778.7" class="pl">d</text>
<path d="M31.6,619.0 H70.6" stroke="#E36A6E" stroke-width="2.2"/><circle cx="51.1" cy="619.0" r="8.4" fill="#E36A6E"/>
<text x="90" y="628.3" transform="matrix(1,0,0,1.04,0,-25.132)" class="lg">BDNF</text>
<text x="200.5" y="628.3" transform="matrix(1,0,0,1.04,0,-25.132)" class="lg">EC<tspan class="sb" x="238.8" y="638">50</tspan><tspan x="265" y="628.3">= 17.1 ng/mL</tspan></text>
<text x="451.5" y="628.3" transform="matrix(1,0,0,1.04,0,-25.132)" class="lg">E<tspan class="sb" x="469.5" y="638">Max</tspan><tspan x="508.5" y="628.3">= 93.4%</tspan></text>
<path d="M868.3,619.0 H906.3" stroke="#5291DD" stroke-width="2.2"/><circle cx="887.3" cy="619.0" r="8.4" fill="#5291DD"/>
<text x="926" y="628.3" transform="matrix(1,0,0,1.04,0,-25.132)" class="lg">TBG</text>
<text x="1046.5" y="628.3" transform="matrix(1,0,0,1.04,0,-25.132)" class="lg">EC<tspan class="sb" x="1084" y="638">50</tspan><tspan x="1111.3" y="628.3">= NC</tspan></text>
<text x="1259.5" y="628.3" transform="matrix(1,0,0,1.04,0,-25.132)" class="lg">E<tspan class="sb" x="1276" y="638">Max</tspan><tspan x="1315.5" y="628.3">= NC</tspan></text>
<path d="M1656.6,619.0 H1694.8" stroke="#5291DD" stroke-width="2.2"/><circle cx="1675.7" cy="619.0" r="8.4" fill="#5291DD"/>
<text x="1713.6" y="628.3" transform="matrix(1,0,0,1.04,0,-25.132)" class="lg">TBG</text>
<text x="1834.6" y="628.3" transform="matrix(1,0,0,1.04,0,-25.132)" class="lg">EC<tspan class="sb" x="1873" y="638">50</tspan><tspan x="1898" y="628.3">= NC</tspan></text>
<text x="2047.8" y="628.3" transform="matrix(1,0,0,1.04,0,-25.132)" class="lg">E<tspan class="sb" x="2064.3" y="638">Max</tspan><tspan x="2103.3" y="628.3">= NC</tspan></text>
<path d="M33.8,1372.7 H72.0" stroke="#5291DD" stroke-width="2.2"/><circle cx="52.9" cy="1372.7" r="8.4" fill="#5291DD"/>
<path d="M33.8,1421.1 H72.0" stroke="#E36A6E" stroke-width="2.2"/><circle cx="52.9" cy="1421.1" r="8.4" fill="#E36A6E"/>
<text x="92" y="1382.1" transform="matrix(1,0,0,1.04,0,-55.284)" class="lg">TBG</text>
<text x="92" y="1430.1" transform="matrix(1,0,0,1.04,0,-57.204)" class="lg">Clorgyline</text>
<text x="260.8" y="1382.1" transform="matrix(1,0,0,1.04,0,-55.284)" class="lg">EC<tspan class="sb" x="297.6" y="1391.6">50</tspan><tspan x="323.1" y="1382.1">= 4.0 <tspan class="mu">μ</tspan>M</tspan></text>
<text x="472.5" y="1382.1" transform="matrix(1,0,0,1.04,0,-55.284)" class="lg">E<tspan class="sb" x="489.2" y="1391.6">Max</tspan><tspan x="529.3" y="1382.1">= 99%</tspan></text>
<text x="260.8" y="1430.1" transform="matrix(1,0,0,1.04,0,-57.204)" class="lg">EC<tspan class="sb" x="297.6" y="1439.6">50</tspan><tspan x="323.1" y="1430.1">= 3.4 nM (from vendor)</tspan></text>
<path d="M920.3,1372.7 H958.8" stroke="#5291DD" stroke-width="2.2"/><circle cx="939.5" cy="1372.7" r="8.4" fill="#5291DD"/>
<path d="M920.3,1420.7 H958.8" stroke="#E36A6E" stroke-width="2.2"/><circle cx="939.5" cy="1420.7" r="8.4" fill="#E36A6E"/>
<text x="977.5" y="1382.1" transform="matrix(1,0,0,1.04,0,-55.284)" class="lg">TBG</text>
<text x="977.5" y="1430.1" transform="matrix(1,0,0,1.04,0,-57.204)" class="lg">Desipramine</text>
<text x="1175" y="1382.1" transform="matrix(1,0,0,1.04,0,-55.284)" class="lg">K<tspan class="sb" x="1193" y="1391.6">i</tspan><tspan x="1203.5" y="1382.1">= 6.7 <tspan class="mu">μ</tspan>M</tspan></text>
<text x="1175" y="1430.1" transform="matrix(1,0,0,1.04,0,-57.204)" class="lg">K<tspan class="sb" x="1193" y="1439.6">i</tspan><tspan x="1203.5" y="1430.1">= 0.73 nM</tspan></text>
<path d="M1712.0,1372.4 H1750.0" stroke="#5291DD" stroke-width="2.2"/><circle cx="1731.0" cy="1372.4" r="8.4" fill="#5291DD"/>
<path d="M1712.0,1420.5 H1750.0" stroke="#E36A6E" stroke-width="2.2"/><circle cx="1731.0" cy="1420.5" r="8.4" fill="#E36A6E"/>
<text x="1769.7" y="1382.1" transform="matrix(1,0,0,1.04,0,-55.284)" class="lg">TBG</text>
<text x="1769.7" y="1430.1" transform="matrix(1,0,0,1.04,0,-57.204)" class="lg">Fluoxetine</text>
<text x="1966.5" y="1382.1" transform="matrix(1,0,0,1.04,0,-55.284)" class="lg">K<tspan class="sb" x="1984.9" y="1391.6">i</tspan><tspan x="1995" y="1382.1">= 212 nM</tspan></text>
<text x="1966.5" y="1430.1" transform="matrix(1,0,0,1.04,0,-57.204)" class="lg">K<tspan class="sb" x="1984.9" y="1439.6">i</tspan><tspan x="1995" y="1430.1">= 1.8 nM</tspan></text>
</svg>
</body></html>
